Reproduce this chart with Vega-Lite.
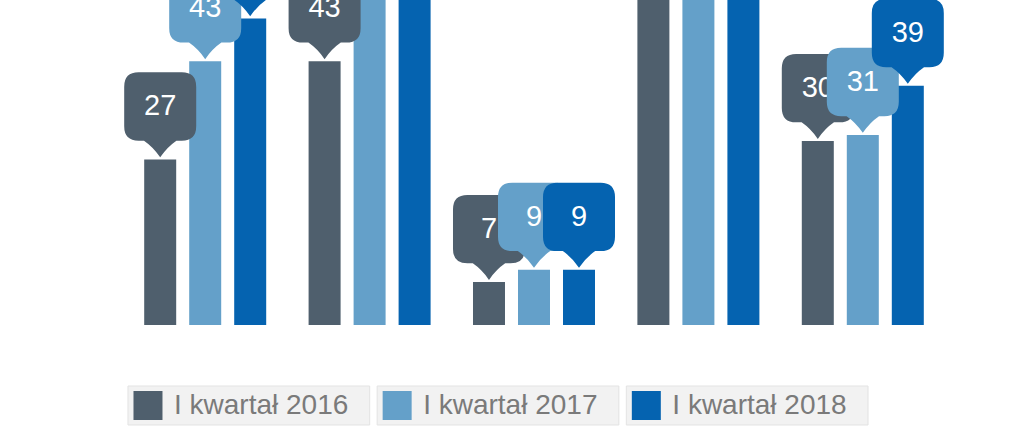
{
  "$schema": "https://vega.github.io/schema/vega-lite/v6.json",
  "padding": {"left": 123, "top": 0, "right": 0, "bottom": 0},
  "spacing": 60,
  "background": "white",
  "config": {"view": {"stroke": null}, "font": "Liberation Sans"},
  "datasets": {
    "main": [
      {"grupa": "1", "rok": "I kwartał 2016", "wartosc": 27},
      {"grupa": "1", "rok": "I kwartał 2017", "wartosc": 43},
      {"grupa": "1", "rok": "I kwartał 2018", "wartosc": 50},
      {"grupa": "2", "rok": "I kwartał 2016", "wartosc": 43},
      {"grupa": "2", "rok": "I kwartał 2017", "wartosc": 58},
      {"grupa": "2", "rok": "I kwartał 2018", "wartosc": 62},
      {"grupa": "3", "rok": "I kwartał 2016", "wartosc": 7},
      {"grupa": "3", "rok": "I kwartał 2017", "wartosc": 9},
      {"grupa": "3", "rok": "I kwartał 2018", "wartosc": 9},
      {"grupa": "4", "rok": "I kwartał 2016", "wartosc": 68},
      {"grupa": "4", "rok": "I kwartał 2017", "wartosc": 74},
      {"grupa": "4", "rok": "I kwartał 2018", "wartosc": 80},
      {"grupa": "5", "rok": "I kwartał 2016", "wartosc": 30},
      {"grupa": "5", "rok": "I kwartał 2017", "wartosc": 31},
      {"grupa": "5", "rok": "I kwartał 2018", "wartosc": 39}
    ],
    "legenda": [
      {"rok": "I kwartał 2016"},
      {"rok": "I kwartał 2017"},
      {"rok": "I kwartał 2018"}
    ]
  },
  "vconcat": [
    {
      "width": 822,
      "height": 325,
      "data": {"name": "main"},
      "encoding": {
        "x": {"field": "grupa", "type": "nominal", "axis": null, "sort": null, "scale": {"paddingInner": 0, "paddingOuter": 0}},
        "xOffset": {"field": "rok", "type": "nominal", "sort": null, "scale": {"paddingInner": 0.289, "paddingOuter": 0.471}},
        "y": {"field": "wartosc", "type": "quantitative", "axis": null, "scale": {"domain": [0, 53], "nice": false}}
      },
      "layer": [
        {
          "mark": {"type": "bar", "clip": true},
          "encoding": {
            "color": {"field": "rok", "type": "nominal", "legend": null,
              "scale": {"domain": ["I kwartał 2016", "I kwartał 2017", "I kwartał 2018"], "range": ["#4f5f6d", "#64a0c9", "#0563b0"]}}
          }
        },
        {
          "transform": [{"filter": "datum.rok == 'I kwartał 2016'"}],
          "mark": {"type": "point", "clip": true, "filled": true, "opacity": 1, "strokeWidth": 0, "size": 5184, "color": "#4f5f6d",
            "shape": "M0,-0.06 Q-0.2,-0.35 -0.45,-0.52 L-0.6,-0.52 Q-1,-0.52 -1,-0.92 L-1,-2.02 Q-1,-2.42 -0.6,-2.42 L0.6,-2.42 Q1,-2.42 1,-2.02 L1,-0.92 Q1,-0.52 0.6,-0.52 L0.45,-0.52 Q0.2,-0.35 0,-0.06 Z"}
        },
        {
          "transform": [{"filter": "datum.rok == 'I kwartał 2016'"}],
          "mark": {"type": "text", "clip": true, "color": "white", "fontSize": 29, "baseline": "middle", "dy": -53},
          "encoding": {"text": {"field": "wartosc", "type": "quantitative"}}
        },
        {
          "transform": [{"filter": "datum.rok == 'I kwartał 2017'"}],
          "mark": {"type": "point", "clip": true, "filled": true, "opacity": 1, "strokeWidth": 0, "size": 5184, "color": "#64a0c9",
            "shape": "M0,-0.06 Q-0.2,-0.35 -0.45,-0.52 L-0.6,-0.52 Q-1,-0.52 -1,-0.92 L-1,-2.02 Q-1,-2.42 -0.6,-2.42 L0.6,-2.42 Q1,-2.42 1,-2.02 L1,-0.92 Q1,-0.52 0.6,-0.52 L0.45,-0.52 Q0.2,-0.35 0,-0.06 Z"}
        },
        {
          "transform": [{"filter": "datum.rok == 'I kwartał 2017'"}],
          "mark": {"type": "text", "clip": true, "color": "white", "fontSize": 29, "baseline": "middle", "dy": -53},
          "encoding": {"text": {"field": "wartosc", "type": "quantitative"}}
        },
        {
          "transform": [{"filter": "datum.rok == 'I kwartał 2018'"}],
          "mark": {"type": "point", "clip": true, "filled": true, "opacity": 1, "strokeWidth": 0, "size": 5184, "color": "#0563b0",
            "shape": "M0,-0.06 Q-0.2,-0.35 -0.45,-0.52 L-0.6,-0.52 Q-1,-0.52 -1,-0.92 L-1,-2.02 Q-1,-2.42 -0.6,-2.42 L0.6,-2.42 Q1,-2.42 1,-2.02 L1,-0.92 Q1,-0.52 0.6,-0.52 L0.45,-0.52 Q0.2,-0.35 0,-0.06 Z"}
        },
        {
          "transform": [{"filter": "datum.rok == 'I kwartał 2018'"}],
          "mark": {"type": "text", "clip": true, "color": "white", "fontSize": 29, "baseline": "middle", "dy": -53},
          "encoding": {"text": {"field": "wartosc", "type": "quantitative"}}
        }
      ]
    },
    {
      "width": 750,
      "height": 39,
      "data": {"name": "legenda"},
      "encoding": {
        "x": {"field": "rok", "type": "nominal", "axis": null, "sort": null, "scale": {"paddingInner": 0.03, "paddingOuter": 0.02}}
      },
      "layer": [
        {"mark": {"type": "rect", "fill": "#f2f2f2", "stroke": "#e3e3e3", "strokeWidth": 1}},
        {
          "mark": {"type": "point", "shape": "square", "filled": true, "opacity": 1, "strokeWidth": 0, "size": 841, "xOffset": 20},
          "encoding": {
            "x": {"field": "rok", "type": "nominal", "axis": null, "sort": null, "bandPosition": 0},
            "color": {"field": "rok", "type": "nominal", "legend": null}
          }
        },
        {
          "mark": {"type": "text", "align": "left", "baseline": "middle", "dx": 46, "fontSize": 28, "color": "#7a7a7a"},
          "encoding": {
            "x": {"field": "rok", "type": "nominal", "axis": null, "sort": null, "bandPosition": 0},
            "text": {"field": "rok"}
          }
        }
      ]
    }
  ]
}
